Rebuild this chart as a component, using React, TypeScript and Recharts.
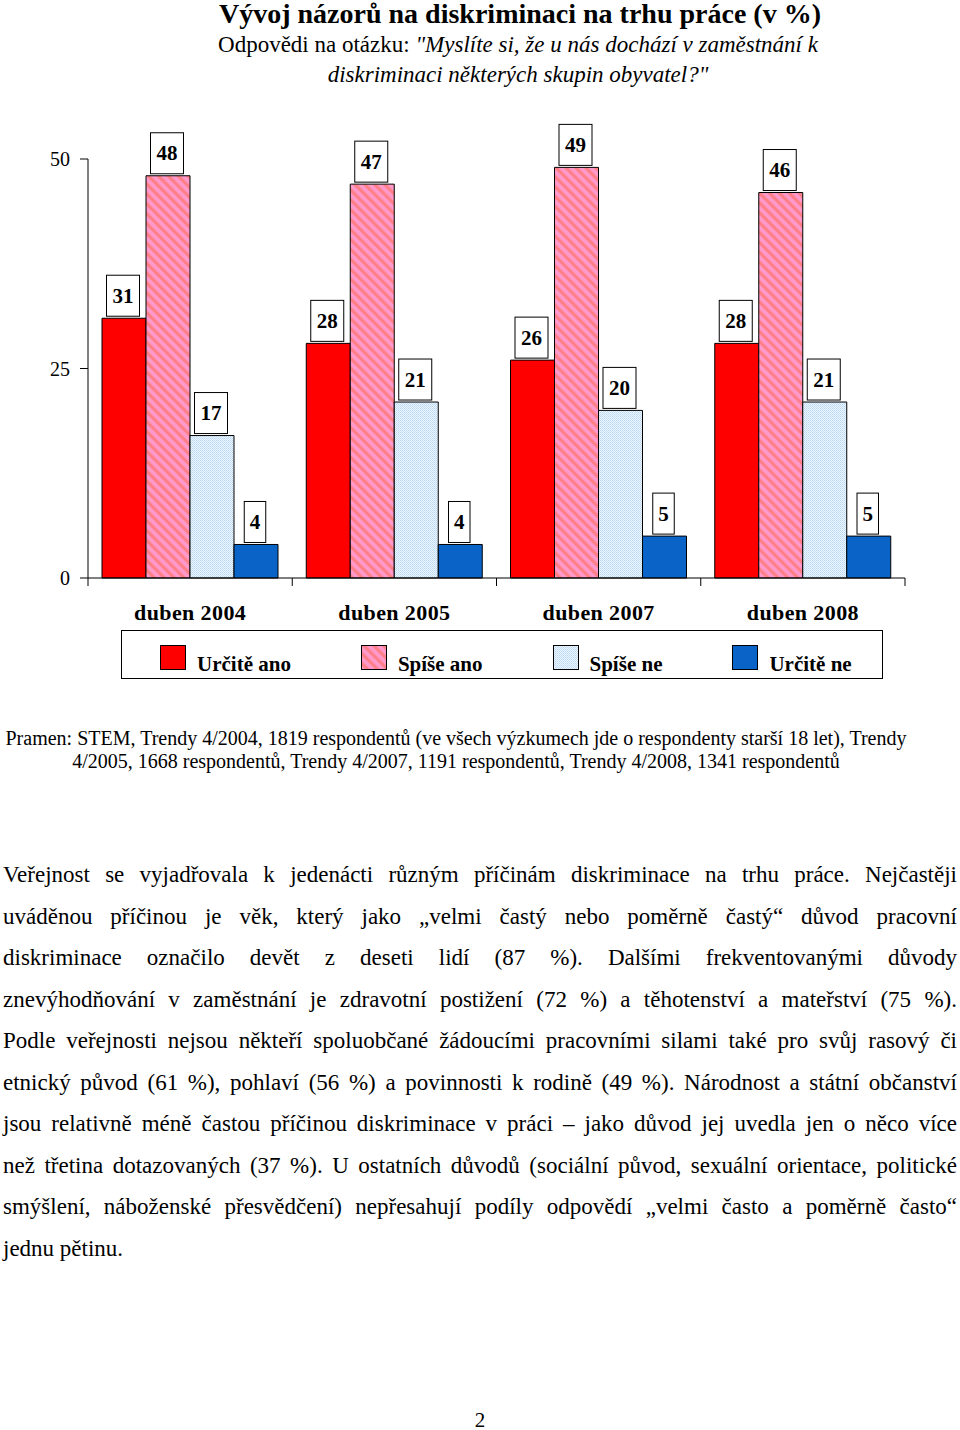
import React from 'react';
import { BarChart, Bar, XAxis, YAxis, LabelList } from 'recharts';

const periods = ['duben 2004', 'duben 2005', 'duben 2007', 'duben 2008'];
const urciteAno = [31, 28, 26, 28];
const spiseAno = [48, 47, 49, 46];
const spiseNe = [17, 21, 20, 21];
const urciteNe = [4, 4, 5, 5];
const yTicks = [0, 25, 50];

const series = [
  { key: 'urciteAno', name: 'Určitě ano', fill: '#ff0000' },
  { key: 'spiseAno', name: 'Spíše ano', fill: 'url(#pinkStripes)' },
  { key: 'spiseNe', name: 'Spíše ne', fill: 'url(#blueDots)' },
  { key: 'urciteNe', name: 'Určitě ne', fill: '#0a64c8' }
];

const data = periods.map((p, i) => ({
  period: p,
  urciteAno: urciteAno[i],
  spiseAno: spiseAno[i],
  spiseNe: spiseNe[i],
  urciteNe: urciteNe[i]
}));

const paragraph = [
  'Veřejnost se vyjadřovala k jedenácti různým příčinám diskriminace na trhu práce. Nejčastěji',
  'uváděnou příčinou je věk, který jako „velmi častý nebo poměrně častý“ důvod pracovní',
  'diskriminace označilo devět z deseti lidí (87 %). Dalšími frekventovanými důvody',
  'znevýhodňování v zaměstnání je zdravotní postižení (72 %) a těhotenství a mateřství (75 %).',
  'Podle veřejnosti nejsou někteří spoluobčané žádoucími pracovními silami také pro svůj rasový či',
  'etnický původ (61 %), pohlaví (56 %) a povinnosti k rodině (49 %). Národnost a státní občanství',
  'jsou relativně méně častou příčinou diskriminace v práci – jako důvod jej uvedla jen o něco více',
  'než třetina dotazovaných (37 %). U ostatních důvodů (sociální původ, sexuální orientace, politické',
  'smýšlení, náboženské přesvědčení) nepřesahují podíly odpovědí „velmi často a poměrně často“',
  'jednu pětinu.'
];

const FONT = '"Liberation Serif", "Times New Roman", serif';

// white boxed value above each bar
const BoxLabel = (props: any) => {
  const { x, y, width, value } = props;
  const txt = String(value);
  const w = 10 + txt.length * 11.5;
  const h = 41;
  const cx = x + width / 2 - 1;
  const bottom = y - 2;
  return (
    <g>
      <rect x={cx - w / 2} y={bottom - h} width={w} height={h} fill="#fff" stroke="#000" strokeWidth={1} />
      <text x={cx} y={bottom - h / 2 + 7} textAnchor="middle" fontFamily={FONT} fontWeight="bold" fontSize={21} fill="#000">
        {txt}
      </text>
    </g>
  );
};

// category label + tick marks on the category borders
const PeriodTick = (props: any) => {
  const { x, y, payload, index } = props;
  const half = typeof payload.offset === 'number' && payload.offset > 0 ? payload.offset : 817 / periods.length / 2;
  return (
    <g>
      <line x1={x + half} x2={x + half} y1={y} y2={y + 8} stroke="#000" />
      {index === 0 && <line x1={x - half} x2={x - half} y1={y} y2={y + 8} stroke="#000" />}
      <text x={x} y={y + 42} textAnchor="middle" fontFamily={FONT} fontWeight="bold" fontSize={22} letterSpacing={0.4} fill="#000">
        {payload.value}
      </text>
    </g>
  );
};

const Swatch = ({ fill }: { fill: string }) => (
  <svg width={26} height={26} style={{ display: 'block', marginTop: 14 }}>
    <rect x={0.5} y={0.5} width={25} height={24} fill={fill} stroke="#000" />
  </svg>
);

export default function App() {
  return (
    <div style={{ position: 'absolute', left: 0, top: 0, width: 960, height: 1430, background: '#fff', fontFamily: FONT, color: '#000' }}>
      <BarChart
        width={960}
        height={700}
        data={data}
        margin={{ top: 159, right: 55, left: 0, bottom: 82 }}
        barCategoryGap={14}
        barGap={0}
      >
        <defs>
          <pattern id="pinkStripes" patternUnits="userSpaceOnUse" width={7} height={7} patternTransform="rotate(-45)">
            <rect width={7} height={7} fill="#ff99cc" />
            <rect width={3.2} height={7} fill="#ff7f86" />
          </pattern>
          <pattern id="blueDots" patternUnits="userSpaceOnUse" width={2} height={2}>
            <rect width={2} height={2} fill="#eef6fd" />
            <rect width={1} height={1} fill="#b9d7f3" />
            <rect x={1} y={1} width={1} height={1} fill="#c8e0f6" />
          </pattern>
        </defs>
        <XAxis
          dataKey="period"
          interval={0}
          height={40}
          tickSize={0}
          tickMargin={0}
          tickLine={false}
          axisLine={{ stroke: '#000' }}
          tick={<PeriodTick />}
        />
        <YAxis
          width={88}
          domain={[0, 50]}
          ticks={yTicks}
          interval={0}
          tickSize={8}
          tickMargin={10}
          axisLine={{ stroke: '#000' }}
          tickLine={{ stroke: '#000' }}
          tick={{ fill: '#000', fontSize: 20, fontFamily: FONT }}
        />
        {series.map(s => (
          <Bar key={s.key} dataKey={s.key} name={s.name} fill={s.fill} stroke="#000" strokeWidth={1} isAnimationActive={false}>
            <LabelList dataKey={s.key} content={<BoxLabel />} />
          </Bar>
        ))}
      </BarChart>

      {/* title */}
      <div style={{ position: 'absolute', left: 80, width: 880, top: 0, textAlign: 'center', fontSize: 28, lineHeight: '28px', fontWeight: 'bold' }}>
        Vývoj názorů na diskriminaci na trhu práce (v %)
      </div>
      <div style={{ position: 'absolute', left: 80, width: 876, top: 30, textAlign: 'center', fontSize: 23, lineHeight: '30px' }}>
        Odpovědi na otázku: <i>"Myslíte si, že u nás dochází v zaměstnání k</i>
        <br />
        <i>diskriminaci některých skupin obyvatel?"</i>
      </div>

      {/* legend */}
      <div style={{ position: 'absolute', left: 121, top: 630, width: 762, height: 49, boxSizing: 'border-box', border: '1px solid #000', display: 'flex', alignItems: 'flex-start', paddingLeft: 38 }}>
        {series.map((s, i) => (
          <div key={s.key} style={{ display: 'flex', alignItems: 'flex-start', marginLeft: i === 0 ? 0 : 70 }}>
            <Swatch fill={s.fill} />
            <span style={{ marginLeft: 11, marginTop: 23, fontWeight: 'bold', fontSize: 21, lineHeight: '20px' }}>{s.name}</span>
          </div>
        ))}
      </div>

      {/* source */}
      <div style={{ position: 'absolute', left: 0, width: 912, top: 727, textAlign: 'center', fontSize: 20, lineHeight: '23px' }}>
        Pramen: STEM, Trendy 4/2004, 1819 respondentů (ve všech výzkumech jde o respondenty starší 18 let), Trendy
        <br />
        4/2005, 1668 respondentů, Trendy 4/2007, 1191 respondentů, Trendy 4/2008, 1341 respondentů
      </div>

      {/* body text */}
      <div style={{ position: 'absolute', left: 3, width: 954, top: 854, fontSize: 23, lineHeight: '41.5px' }}>
        {paragraph.map((line, i) => (
          <div
            key={i}
            style={{
              textAlign: i === paragraph.length - 1 ? 'left' : 'justify',
              textAlignLast: i === paragraph.length - 1 ? 'left' : 'justify',
              whiteSpace: 'nowrap'
            }}
          >
            {line}
          </div>
        ))}
      </div>

      <div style={{ position: 'absolute', left: 0, width: 960, top: 1406, textAlign: 'center', fontSize: 21, lineHeight: '28px' }}>2</div>
    </div>
  );
}
